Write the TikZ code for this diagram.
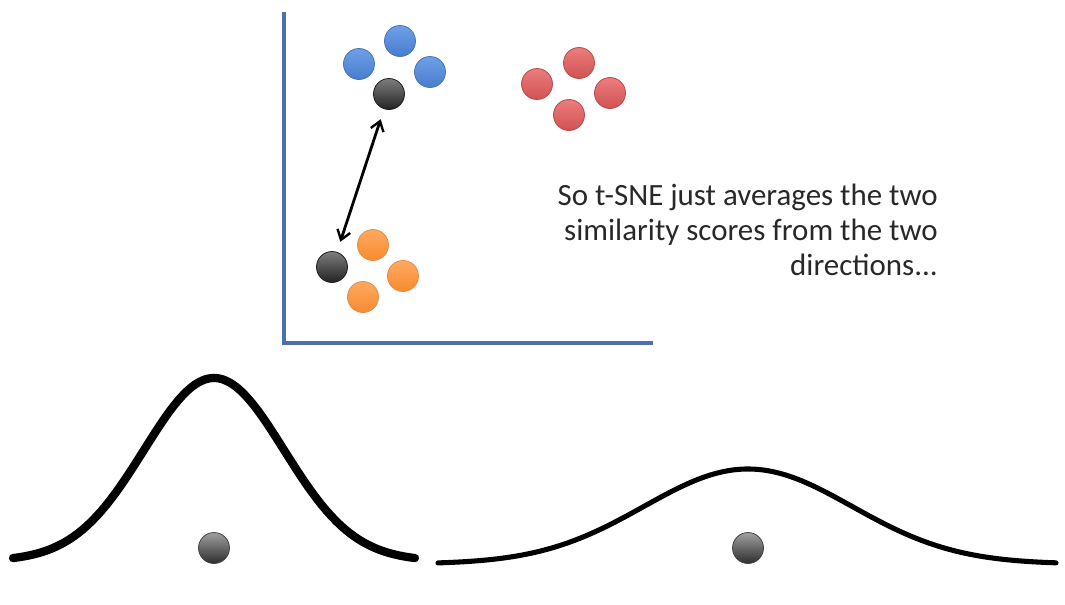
\documentclass[tikz,border=0pt]{standalone}
\usepackage{fontspec}
\setmainfont{Carlito}
\usetikzlibrary{arrows.meta}
\definecolor{axisblue}{RGB}{74,112,178}
\definecolor{txtgray}{RGB}{40,40,40}
\newlength{\pxu}
\setlength{\pxu}{0.75pt}
\tikzset{
  dot/.style={circle, minimum size=31\pxu, inner sep=0pt, line width=0.6pt},
  bluedot/.style={dot, draw={rgb,255:red,70;green,115;blue,185}, top color={rgb,255:red,110;green,160;blue,232}, bottom color={rgb,255:red,72;green,125;blue,205}},
  reddot/.style={dot, draw={rgb,255:red,185;green,75;blue,75}, top color={rgb,255:red,236;green,125;blue,125}, bottom color={rgb,255:red,208;green,82;blue,82}},
  orangedot/.style={dot, draw={rgb,255:red,230;green,140;blue,70}, top color={rgb,255:red,255;green,170;blue,95}, bottom color={rgb,255:red,246;green,138;blue,48}},
  blackdot/.style={dot, draw={rgb,255:red,30;green,30;blue,30}, top color={rgb,255:red,125;green,125;blue,125}, bottom color={rgb,255:red,35;green,35;blue,35}},
  graydot/.style={dot, draw={rgb,255:red,70;green,70;blue,70}, top color={rgb,255:red,160;green,160;blue,160}, bottom color={rgb,255:red,45;green,45;blue,45}},
  axisline/.style={draw=axisblue, line width=2.4pt},
  curve/.style={line cap=round, line join=round},
  dblarrow/.style={>={Straight Barb[length=7pt,width=10pt,line width=1.8pt]}, <->, line width=2.1pt, shorten <=8pt, shorten >=8pt},
}
\begin{document}
\begin{tikzpicture}[x=0.75pt, y=-0.75pt]
\useasboundingbox (0,0) rectangle (1065,604);
% axes
\coordinate (ytop) at (284,12);
\coordinate (origin) at (284,343);
\coordinate (xend) at (653,343);
\draw[axisline] (ytop) -- (origin) -- (xend);
% blue cluster
\node[bluedot] (b1) at (400,41) {};
\node[bluedot] (b2) at (359,64) {};
\node[bluedot] (b3) at (430,72) {};
\node[blackdot] (k1) at (389,94) {};
% red cluster
\node[reddot] (r1) at (579,63) {};
\node[reddot] (r2) at (537,84) {};
\node[reddot] (r3) at (610,93) {};
\node[reddot] (r4) at (569,115) {};
% orange cluster
\node[orangedot] (o1) at (373,245) {};
\node[orangedot] (o2) at (403,276) {};
\node[orangedot] (o3) at (363,297) {};
\node[blackdot] (k2) at (332,267) {};
% arrow
\draw[dblarrow] (k2) -- (k1);
% text
\node[anchor=north east, align=right, text=txtgray, font=\fontsize{23.2}{26.25}\selectfont, inner sep=0pt] (txt) at (938,184) {So t-SNE just averages the two\\similarity scores from the two\\directions...};
% curves
\draw[curve, line width=6.2pt] plot[domain=13:415, samples=120, smooth] (\x, {561 - 183*exp(-0.5*((\x-214)/70)^2)});
\draw[curve, line width=3.8pt] plot[domain=438:1056, samples=140, smooth] (\x, {564 - 95*exp(-0.5*((\x-748)/104)^2)});
% dots under curves
\node[graydot] (g1) at (214,548) {};
\node[graydot] (g2) at (748,548) {};
\end{tikzpicture}
\end{document}
